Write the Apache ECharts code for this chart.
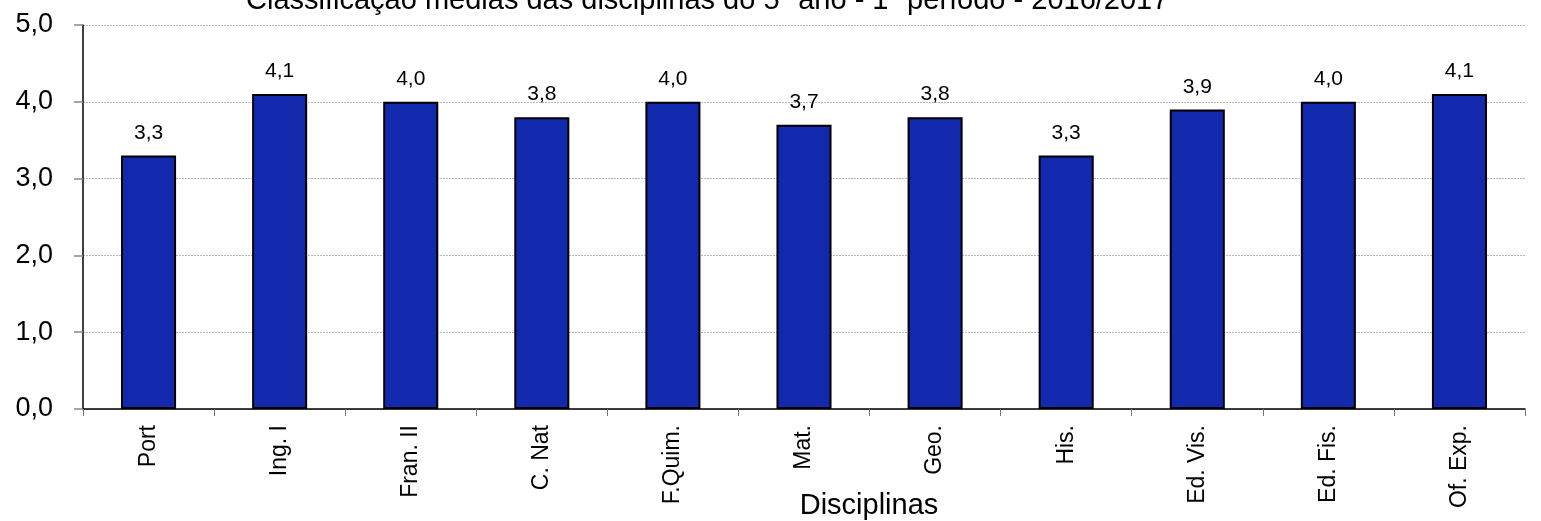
<!DOCTYPE html>
<html>
<head>
<meta charset="utf-8">
<script src="https://cdn.jsdelivr.net/npm/echarts@6/dist/echarts.min.js"></script>
<style>html,body{margin:0;padding:0;background:#fff}#c{width:1541px;height:521px}</style>
</head>
<body>
<div id="c"></div>
<script>
const categories = ['Port', 'Ing. I', 'Fran. II', 'C. Nat', 'F.Quim.', 'Mat.', 'Geo.', 'His.', 'Ed. Vis.', 'Ed. Fis.', 'Of. Exp.'];
const values = [3.3, 4.1, 4.0, 3.8, 4.0, 3.7, 3.8, 3.3, 3.9, 4.0, 4.1];
const yTicks = [0, 1, 2, 3, 4, 5];
const titleText = 'Classificação médias das disciplinas do 5º ano - 1º período - 2016/2017';
const xName = 'Disciplinas';

const chart = echarts.init(document.getElementById('c'), null, {renderer: 'canvas'});
const FONT = '"Liberation Sans", Arial, sans-serif';
chart.setOption({
  animation: false,
  backgroundColor: '#ffffff',
  textStyle: {fontFamily: FONT},
  title: {
    text: titleText,
    left: 246,
    top: -14,
    padding: 0,
    textStyle: {fontFamily: FONT, fontSize: 29, fontWeight: 'normal', color: '#000'}
  },
  grid: {left: 83, right: 16, top: 25, bottom: 112, containLabel: false, outerBoundsMode: 'none'},
  xAxis: {
    type: 'category',
    data: categories,
    name: xName,
    nameLocation: 'middle',
    nameGap: 82,
    nameMoveOverlap: false,
    nameTextStyle: {fontFamily: FONT, fontSize: 29, color: '#000', padding: [0, 0, 0, 130]},
    axisLine: {show: true, lineStyle: {color: '#000', width: 1.5}},
    axisTick: {show: true, alignWithLabel: false, length: 7, lineStyle: {color: '#777', width: 1}},
    axisLabel: {rotate: 90, fontFamily: FONT, fontSize: 23, color: '#000', margin: 16, interval: 0},
    splitLine: {show: false}
  },
  yAxis: {
    type: 'value',
    min: 0,
    max: 5,
    interval: 1,
    axisLine: {show: true, lineStyle: {color: '#000', width: 1.5}},
    axisTick: {show: true, length: 9, lineStyle: {color: '#888', width: 1.5}},
    axisLabel: {
      fontFamily: FONT, fontSize: 27, color: '#000', margin: 30,
      formatter: v => yTicks.includes(v) ? v.toFixed(1).replace('.', ',') : ''
    },
    splitLine: {show: true, lineStyle: {color: '#b8b8b8', type: [2, 1], width: 1}}
  },
  series: [{
    type: 'bar',
    data: values,
    barWidth: '42%',
    itemStyle: {color: '#1229AE', borderColor: '#000', borderWidth: 2},
    label: {
      show: true, position: 'top', distance: 12,
      fontFamily: FONT, fontSize: 21, color: '#000',
      formatter: p => p.value.toFixed(1).replace('.', ',')
    }
  }]
});
</script>
</body>
</html>
